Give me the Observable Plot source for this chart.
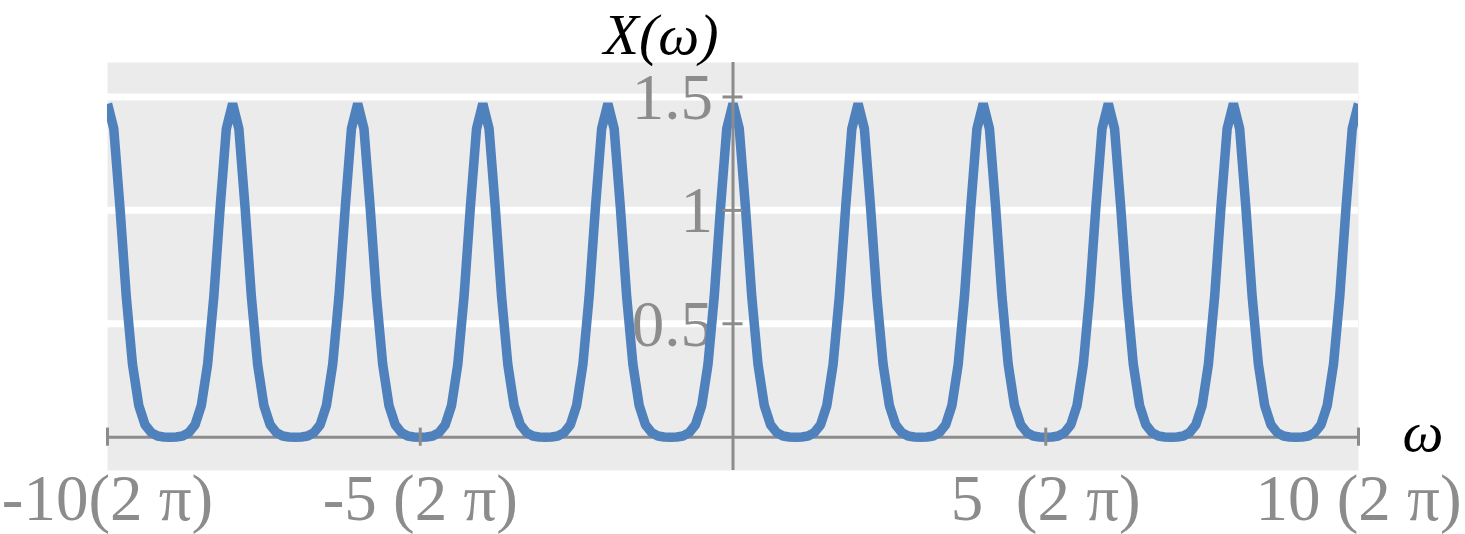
<!DOCTYPE html>
<html>
<head>
<meta charset="utf-8">
<script src="https://cdn.jsdelivr.net/npm/d3@7"></script>
<script src="https://cdn.jsdelivr.net/npm/@observablehq/plot@0.6"></script>
<style>
html, body { margin: 0; padding: 0; background: #ffffff; }
svg text { white-space: pre; }
</style>
</head>
<body>
<div id="chart"></div>
<script>
// ω samples (units of 2π)
const omega = [
  -10,-9.9,-9.8,-9.7,-9.6,-9.5,-9.4,-9.3,-9.2,-9.1,-9,-8.9,-8.8,-8.7,-8.6,-8.5,-8.4,-8.3,-8.2,-8.1,
  -8,-7.9,-7.8,-7.7,-7.6,-7.5,-7.4,-7.3,-7.2,-7.1,-7,-6.9,-6.8,-6.7,-6.6,-6.5,-6.4,-6.3,-6.2,-6.1,
  -6,-5.9,-5.8,-5.7,-5.6,-5.5,-5.4,-5.3,-5.2,-5.1,-5,-4.9,-4.8,-4.7,-4.6,-4.5,-4.4,-4.3,-4.2,-4.1,
  -4,-3.9,-3.8,-3.7,-3.6,-3.5,-3.4,-3.3,-3.2,-3.1,-3,-2.9,-2.8,-2.7,-2.6,-2.5,-2.4,-2.3,-2.2,-2.1,
  -2,-1.9,-1.8,-1.7,-1.6,-1.5,-1.4,-1.3,-1.2,-1.1,-1,-0.9,-0.8,-0.7,-0.6,-0.5,-0.4,-0.3,-0.2,-0.1,
  0,0.1,0.2,0.3,0.4,0.5,0.6,0.7,0.8,0.9,1,1.1,1.2,1.3,1.4,1.5,1.6,1.7,1.8,1.9,
  2,2.1,2.2,2.3,2.4,2.5,2.6,2.7,2.8,2.9,3,3.1,3.2,3.3,3.4,3.5,3.6,3.7,3.8,3.9,
  4,4.1,4.2,4.3,4.4,4.5,4.6,4.7,4.8,4.9,5,5.1,5.2,5.3,5.4,5.5,5.6,5.7,5.8,5.9,
  6,6.1,6.2,6.3,6.4,6.5,6.6,6.7,6.8,6.9,7,7.1,7.2,7.3,7.4,7.5,7.6,7.7,7.8,7.9,
  8,8.1,8.2,8.3,8.4,8.5,8.6,8.7,8.8,8.9,9,9.1,9.2,9.3,9.4,9.5,9.6,9.7,9.8,9.9,
  10
];
// X(ω) values
const Xvals = [
  1.47,1.36,1.01,0.62,0.32,0.14,0.055,0.02,0.005,0.001,0,0.001,0.005,0.02,0.055,0.14,0.32,0.62,1.01,1.36,
  1.47,1.36,1.01,0.62,0.32,0.14,0.055,0.02,0.005,0.001,0,0.001,0.005,0.02,0.055,0.14,0.32,0.62,1.01,1.36,
  1.47,1.36,1.01,0.62,0.32,0.14,0.055,0.02,0.005,0.001,0,0.001,0.005,0.02,0.055,0.14,0.32,0.62,1.01,1.36,
  1.47,1.36,1.01,0.62,0.32,0.14,0.055,0.02,0.005,0.001,0,0.001,0.005,0.02,0.055,0.14,0.32,0.62,1.01,1.36,
  1.47,1.36,1.01,0.62,0.32,0.14,0.055,0.02,0.005,0.001,0,0.001,0.005,0.02,0.055,0.14,0.32,0.62,1.01,1.36,
  1.47,1.36,1.01,0.62,0.32,0.14,0.055,0.02,0.005,0.001,0,0.001,0.005,0.02,0.055,0.14,0.32,0.62,1.01,1.36,
  1.47,1.36,1.01,0.62,0.32,0.14,0.055,0.02,0.005,0.001,0,0.001,0.005,0.02,0.055,0.14,0.32,0.62,1.01,1.36,
  1.47,1.36,1.01,0.62,0.32,0.14,0.055,0.02,0.005,0.001,0,0.001,0.005,0.02,0.055,0.14,0.32,0.62,1.01,1.36,
  1.47,1.36,1.01,0.62,0.32,0.14,0.055,0.02,0.005,0.001,0,0.001,0.005,0.02,0.055,0.14,0.32,0.62,1.01,1.36,
  1.47,1.36,1.01,0.62,0.32,0.14,0.055,0.02,0.005,0.001,0,0.001,0.005,0.02,0.055,0.14,0.32,0.62,1.01,1.36,
  1.47
];
const xTickValues = [-10, -5, 5, 10];
const xTickLabels = ["-10(2 π)", "-5 (2 π)", "5  (2 π)", "10 (2 π)"];
const yTickValues = [0.5, 1, 1.5];
const yTickLabels = ["0.5", "1", "1.5"];
const yAxisTitle = "X(ω)";
const xAxisTitle = "ω";

const series = omega.map((w, i) => ({omega: w, X: Xvals[i]}));
const xTicks = xTickValues.map((v, i) => ({v, label: xTickLabels[i]}));
const yTicks = yTickValues.map((v, i) => ({v, label: yTickLabels[i]}));

const axisGray = "#8c8c8c";
const serif = "'Liberation Serif', 'Times New Roman', serif";

const chart = Plot.plot({
  width: 1465,
  height: 534,
  marginTop: 62,
  marginBottom: 64,
  marginLeft: 107,
  marginRight: 107,
  x: {domain: [-10, 10], axis: null},
  y: {domain: [-0.147, 1.652], axis: null},
  style: {background: "white", fontFamily: serif, overflow: "visible"},
  marks: [
    Plot.frame({fill: "#ebebeb", stroke: null}),
    Plot.ruleY(yTickValues, {stroke: "white", strokeWidth: 7}),
    Plot.text(yTicks, {x: 0, y: "v", text: "label", textAnchor: "end", lineAnchor: "bottom",
      dx: -20, dy: 22, fontSize: 65, fill: axisGray}),
    Plot.text(xTicks, {x: "v", text: "label", frameAnchor: "bottom", lineAnchor: "bottom",
      dy: 49, fontSize: 65, fill: axisGray}),
    Plot.ruleY([0], {stroke: axisGray, strokeWidth: 3}),
    Plot.line(series, {x: "omega", y: "X", stroke: "#4f81bd", strokeWidth: 9.5,
      strokeLinejoin: "bevel", strokeLinecap: "butt", clip: true}),
    Plot.ruleX([0], {stroke: axisGray, strokeWidth: 3}),
    Plot.ruleX(xTickValues, {y1: -0.04, y2: 0.04, stroke: axisGray, strokeWidth: 3}),
    Plot.ruleY(yTickValues, {x1: -0.16, x2: 0.16, stroke: axisGray, strokeWidth: 3}),
    Plot.text([yAxisTitle], {frameAnchor: "top-left", dx: 496, dy: -9, textAnchor: "start",
      lineAnchor: "bottom", fontSize: 58, fontStyle: "italic", fill: "black"}),
    Plot.text([xAxisTitle], {frameAnchor: "bottom-right", dx: 44, dy: -20, textAnchor: "start",
      lineAnchor: "bottom", fontSize: 58, fontStyle: "italic", fill: "black"})
  ]
});
document.getElementById("chart").appendChild(chart);
</script>
</body>
</html>
